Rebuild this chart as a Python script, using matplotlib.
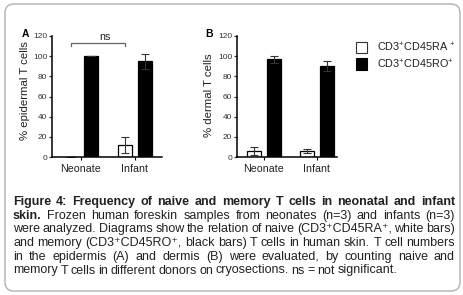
import numpy as np
import matplotlib.pyplot as plt
from matplotlib.patches import FancyBboxPatch, Rectangle
from matplotlib.transforms import IdentityTransform

plt.rcParams['font.family'] = ['Liberation Sans', 'DejaVu Sans']
plt.rcParams['mathtext.fontset'] = 'custom'
plt.rcParams['mathtext.rm'] = 'Liberation Sans'
plt.rcParams['mathtext.it'] = 'Liberation Sans:italic'
plt.rcParams['mathtext.bf'] = 'Liberation Sans:bold'

groups = ['Neonate', 'Infant']
# panel A: epidermis
epi_ra = [0, 12]
epi_ra_err = [0, 8]
epi_ro = [100, 95]
epi_ro_err = [0, 7.5]
# panel B: dermis
der_ra = [5.5, 5.5]
der_ra_err = [4, 2]
der_ro = [97, 90]
der_ro_err = [3.5, 5]
yticks = [0, 20, 40, 60, 80, 100, 120]

caption = [
    [("Figure 4: Frequency of naive and memory T cells in neonatal and infant", 'bold')],
    [("skin.", 'bold'), ("Frozen human foreskin samples from neonates (n=3) and infants (n=3)", 'normal')],
    [("were analyzed. Diagrams show the relation of naive (CD3\u207aCD45RA\u207a, white bars)", 'normal')],
    [("and memory (CD3\u207aCD45RO\u207a, black bars) T cells in human skin. T cell numbers", 'normal')],
    [("in the epidermis (A) and dermis (B) were evaluated, by counting naive and", 'normal')],
    [("memory T cells in different donors on cryosections. ns = not significant.", 'normal')],
]

fig = plt.figure(figsize=(4.63, 2.95), dpi=100)
W, H = 463, 295

frame = FancyBboxPatch((5, 4), 455, 287, boxstyle="round,pad=0,rounding_size=9",
                       transform=IdentityTransform(), fill=False, ec='#b0b0b0', lw=1.0)
fig.patches.append(frame)

def panel(left_px, right_px, xl, ra, ra_err, ro, ro_err, ylab, ylab_x, ylab_y):
    ax = fig.add_axes([left_px / W, (H - 157) / H, (right_px - left_px) / W, 121 / H])
    x = np.arange(len(groups))
    off = 0.185
    bw = 0.26
    ax.bar(x - off, ra, bw, color='white', edgecolor='black', lw=0.9,
           yerr=ra_err, capsize=2.8, error_kw=dict(lw=0.8, capthick=0.8, ecolor='#333'))
    ax.bar(x + off, ro, bw, color='black', edgecolor='black', lw=0.9,
           yerr=ro_err, capsize=2.8, error_kw=dict(lw=0.8, capthick=0.8, ecolor='#333'))
    ax.set_xlim(*xl)
    ax.set_ylim(0, 120)
    ax.set_yticks(yticks)
    ax.set_xticks(x)
    ax.set_xticklabels(groups, fontsize=7.7, color='#222')
    ax.tick_params(axis='y', labelsize=6, length=2.5, width=0.9, pad=1, colors='#333')
    ax.tick_params(axis='x', length=2, width=0.8, pad=3)
    for s in ['top', 'right']:
        ax.spines[s].set_visible(False)
    for s in ['left', 'bottom']:
        ax.spines[s].set_linewidth(1.1)
    ax.set_ylabel(ylab, fontsize=8.2, color='#222')
    ax.yaxis.set_label_coords(ylab_x, ylab_y)
    return ax

axA = panel(52, 162, (-0.537, 1.5), epi_ra, epi_ra_err, epi_ro, epi_ro_err,
            '% epidermal T cells', -0.2, 0.545)
axB = panel(237, 337, (-0.51, 1.38), der_ra, der_ra_err, der_ro, der_ro_err,
            '% dermal T cells', -0.23, 0.51)

fig.text(22 / W, 1 - 37 / H, 'A', fontsize=7.5, fontweight='bold')
fig.text(205 / W, 1 - 37 / H, 'B', fontsize=7.5, fontweight='bold')

# ns bracket
axA.plot([-0.185, -0.185, 0.815, 0.815], [110, 113.5, 113.5, 110], color='#666', lw=0.9, clip_on=False)
axA.text(0.45, 114, 'ns', ha='center', va='bottom', fontsize=7.7, color='#222')

# legend
fig.patches.append(Rectangle((356, H - 53), 11, 11, transform=IdentityTransform(),
                             fc='white', ec='#333', lw=0.8))
fig.patches.append(Rectangle((356, H - 70), 11, 12, transform=IdentityTransform(),
                             fc='black', ec='black', lw=0.8))
fig.text(377 / W, 1 - 47.5 / H, r'CD3$^{+}$CD45RA $^{+}$', fontsize=7.8, va='center', color='#222')
fig.text(377 / W, 1 - 64 / H, r'CD3$^{+}$CD45RO$^{+}$', fontsize=7.8, va='center', color='#222')

# justified caption, last line left aligned
renderer = fig.canvas.get_renderer()
x0, x1 = 13, 455
x1_last = 397

def measure(word, weight, size):
    t = fig.text(0, 0, word, fontsize=size, fontweight=weight)
    w = t.get_window_extent(renderer).width
    t.remove()
    return w

for i, line in enumerate(caption):
    words = []
    for txt, weight in line:
        for w in txt.split():
            words.append((w, weight))
    right = x1_last if i == len(caption) - 1 else x1
    fs = 9.0
    while True:
        widths = [measure(w, wt, fs) for w, wt in words]
        gap = (right - x0 - sum(widths)) / (len(words) - 1)
        if gap >= 2.2 or fs < 7:
            break
        fs -= 0.1
    y = H - (205 + i * 13.7)
    xpos = x0
    for (w, wt), wd in zip(words, widths):
        fig.text(xpos / W, y / H, w, fontsize=fs, fontweight=wt, color='#222', va='baseline')
        xpos += wd + gap

fig.savefig('out.png', dpi=100)
